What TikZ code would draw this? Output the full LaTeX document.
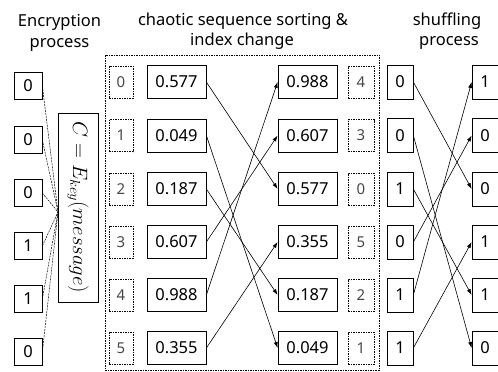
\documentclass[tikz,border=0pt]{standalone}
\usepackage{fontspec}
\setmainfont{Noto Sans}
\usetikzlibrary{arrows.meta}
\tikzset{
  box/.style={draw, line width=0.7pt, inner sep=0pt, font=\fontsize{16.5}{18}\selectfont},
  encbox/.style={box, minimum width=28pt, minimum height=27pt},
  idxbox/.style={draw, dashed, dash pattern=on 1.5pt off 1pt, line width=0.6pt, inner sep=0pt,
    minimum width=24pt, minimum height=32pt, text=black!72, font=\fontsize{15}{17}\selectfont},
  valbox/.style={box, minimum width=59pt, minimum height=33pt},
  shbox/.style={box, minimum width=26pt, minimum height=34pt},
  head/.style={anchor=base, font=\fontsize{16.5}{18}\selectfont, inner sep=0pt},
  conn/.style={line width=0.6pt, -{Latex[length=6pt,width=4pt]}},
  fan/.style={line width=0.5pt, dash pattern=on 2pt off 1pt}
}
\begin{document}
\begin{tikzpicture}[x=1pt, y=-1pt]
\useasboundingbox (0,0) rectangle (498,372);
% headers
\node[head] (h1a) at (59.5,27) {Encryption};
\node[head] (h1b) at (59.5,47) {process};
\node[head] (h2a) at (243,25) {chaotic sequence sorting \&};
\node[head] (h2b) at (242,45) {index change};
\node[head] (h3a) at (447,25) {shuffling};
\node[head] (h3b) at (449,45) {process};
% middle dashed frame
\draw[dash pattern=on 1.5pt off 1pt, line width=0.6pt] (105,55) rectangle (379,370);
% encryption column
\foreach \v/\y [count=\i] in {0/86,0/140,0/193,1/246,1/299,0/352}
  \node[encbox] (e\i) at (28,\y) {\v};
\node[draw, line width=0.7pt, minimum width=40pt, minimum height=189pt, inner sep=0pt] (cb) at (78,207.5) {};
\node[rotate=-90, font=\fontsize{21}{23}\selectfont, inner sep=0pt] (ct) at (cb.center) {$C = E_{key}(message)$};
\coordinate (conv) at (58,212);
\foreach \i in {1,...,6}
  \draw[fan] (e\i.east) -- (conv);
% index and value columns
\foreach \li/\lv/\rv/\ri/\y [count=\i] in {0/0.577/0.988/4/82, 1/0.049/0.607/3/135.5, 2/0.187/0.577/0/189, 3/0.607/0.355/5/242, 4/0.988/0.187/2/295, 5/0.355/0.049/1/348} {
  \node[idxbox] (li\i) at (121,\y) {\li};
  \node[valbox] (lv\i) at (176.5,\y) {\lv};
  \node[valbox] (rv\i) at (307.5,\y) {\rv};
  \node[idxbox, minimum width=26pt] (ri\i) at (361,\y) {\ri};
}
% shuffle columns
\foreach \a/\b/\y [count=\i] in {0/1/82, 0/0/135.5, 1/0/189, 0/1/242, 1/1/295, 1/0/348} {
  \node[shbox] (sl\i) at (400,\y) {\a};
  \node[shbox] (sr\i) at (485,\y) {\b};
}
% connections
\foreach \s/\t in {1/3, 2/6, 3/5, 4/2, 5/1, 6/4} {
  \draw[conn] (lv\s.east) -- (rv\t.west);
  \draw[conn] (sl\s.east) -- (sr\t.west);
}
\end{tikzpicture}
\end{document}
